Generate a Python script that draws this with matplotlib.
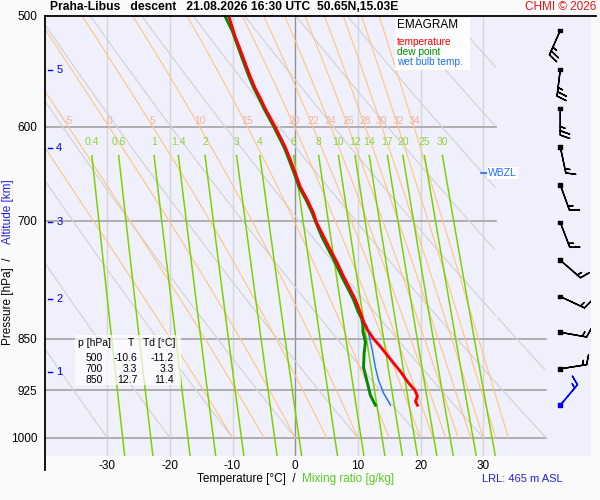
import numpy as np
import matplotlib
matplotlib.use("Agg")
import matplotlib.pyplot as plt
import matplotlib.transforms as mtransforms

plt.rcParams['font.family'] = ['Liberation Sans', 'DejaVu Sans']

# ---------------- sounding data ----------------
T_P = [500, 517, 528, 540, 552, 563, 572, 582, 591, 600, 610, 620, 633, 647,
       662, 676, 691, 702, 718, 734, 750, 767, 784, 797, 814, 826, 837, 850,
       861, 879, 897, 913, 925, 934, 942, 948]
T_C = [-10.6, -9.6, -8.8, -8.0, -7.2, -6.4, -5.6, -4.8, -4.0, -3.2, -2.4, -1.6,
       -0.8, 0.0, 0.8, 1.9, 2.9, 3.4, 4.5, 5.6, 6.7, 7.7, 8.8, 9.6, 10.4, 10.9,
       11.5, 12.5, 13.6, 15.2, 16.8, 18.0, 19.1, 19.5, 19.2, 19.5]

TD_P = [500, 513, 528, 540, 552, 563, 572, 582, 591, 600, 610, 620, 633, 647,
        662, 676, 691, 702, 718, 734, 750, 767, 784, 797, 814, 822, 832, 840,
        850, 855, 870, 891, 913, 933, 948]
TD_C = [-11.2, -10.0, -9.0, -8.2, -7.4, -6.6, -5.8, -5.0, -4.2, -3.4, -2.6,
        -1.8, -1.0, -0.2, 0.6, 1.7, 2.7, 3.3, 4.2, 5.3, 6.4, 7.4, 8.5, 9.3,
        10.1, 10.6, 10.8, 10.8, 11.1, 11.2, 11.0, 10.9, 11.5, 12.0, 12.8]

TW_P = [826, 832, 846, 866, 891, 910, 929, 948]
TW_C = [10.9, 11.4, 11.8, 12.3, 12.8, 13.3, 14.1, 15.2]

# wind: pressure, direction (deg from), speed (kt)
WIND_P = [512, 546, 582, 620, 660, 702, 747, 793, 841, 893, 948]
WIND_DIR = [204, 187, 180, 168, 160, 159, 131, 115, 100, 81, 40]
WIND_SPD = [25, 25, 25, 15, 15, 15, 15, 15, 15, 15, 15]

# altitude marks (km) and their pressure
ALT_KM = [1, 2, 3, 4, 5]
ALT_P = [897, 796, 702, 621, 546]

WBZL_P = 647

TABLE_P = [500, 700, 850]
TABLE_T = [-10.6, 3.3, 12.7]
TABLE_TD = [-11.2, 3.3, 11.4]

# diagram reference lines
P_TICKS = [500, 600, 700, 850, 925, 1000]
ISOBAR_END = [40, 32, 32, 40, 40, 40]
T_TICKS = [-30, -20, -10, 0, 10, 20, 30]
THETA_DRY = list(range(-30, 140, 10))
THETA_W = [-10, -5, 0, 5, 10, 15, 20, 22, 24, 26, 28, 30, 32, 34]
MIX_RATIO = [0.4, 0.6, 1, 1.4, 2, 3, 4, 6, 8, 10, 12, 14, 17, 20, 25, 30]
MIX_LABELS = ["0.4", "0.6", "1", "1.4", "2", "3", "4", "6", "8", "10", "12",
              "14", "17", "20", "25", "30"]

P_TOP, P_BOT = 500, 1030.6
T_MIN, T_MAX, T_RIGHT = -40, 40, 47.2
P_STEP, T_MAX_UPPER = 820, 32


def es(tc):
    return 6.112 * np.exp(17.67 * tc / (tc + 243.5))


def dewpoint_from_w(w, p):
    e = w * p / (622.0 + w)
    a = np.log(e / 6.112)
    return 243.5 * a / (17.67 - a)


def right_clip(tt, pp):
    lim = np.where(pp < P_STEP, T_MAX_UPPER, T_MAX)
    return np.where((tt <= lim) & (tt >= T_MIN - 5), tt, np.nan)


def moist_adiabat(tw, p_levels):
    # integrate the pseudo-adiabat from 1000 hPa upward
    Rd, cp, Lv, eps = 287.04, 1005.7, 2.501e6, 0.622

    def dtdp(t, p):
        e = es(t - 273.15)
        rs = eps * e / (p - e)
        return (Rd * t + Lv * rs) / (p * (cp + Lv * Lv * rs * eps / (Rd * t * t)))

    out = {1000.0: tw + 273.15}
    t = tw + 273.15
    p = 1000.0
    for target in sorted([q for q in p_levels if q < 1000], reverse=True):
        n = 4
        h = (target - p) / n
        for _ in range(n):
            k1 = dtdp(t, p)
            k2 = dtdp(t + 0.5 * h * k1, p + 0.5 * h)
            k3 = dtdp(t + 0.5 * h * k2, p + 0.5 * h)
            k4 = dtdp(t + h * k3, p + h)
            t += h * (k1 + 2 * k2 + 2 * k3 + k4) / 6
            p += h
        out[target] = t
    ps = np.array(sorted(out))
    return ps, np.array([out[q] for q in ps]) - 273.15


fig = plt.figure(figsize=(6, 5), dpi=100, facecolor="#fafafa")
ax = fig.add_axes([44.5 / 600, 44 / 500, (591 - 44.5) / 600, 440 / 500])
ax.set_facecolor("#f0f0fd")
ax.set_yscale("log")
ax.set_xlim(T_MIN, T_RIGHT)
ax.set_ylim(P_BOT, P_TOP)
for s in ax.spines.values():
    s.set_visible(False)

# isotherms and isobars
for t in T_TICKS:
    ax.plot([t, t], [P_TOP, P_BOT], color="#909090" if t == 0 else "#d6d6d6",
            lw=1.0, zorder=1)
for p, tend in zip(P_TICKS[1:], ISOBAR_END[1:]):
    ax.plot([T_MIN, tend], [p, p], color="#a4a4a4", lw=1.2, zorder=1)

# dry adiabats
pp = np.linspace(P_TOP, 1000, 300)
for th in THETA_DRY:
    tt = (th + 273.15) * (pp / 1000.0) ** 0.2857 - 273.15
    ax.plot(right_clip(tt, pp), pp, color="#d4d4d4", lw=0.9, zorder=1)

# pseudo-adiabats
plev = np.linspace(P_TOP, 1000, 80)
for tw in THETA_W:
    ps, ts = moist_adiabat(tw, plev)
    ax.plot(right_clip(ts, ps), ps, color="#ffc480", lw=0.8, zorder=2)
    if tw >= -5:
        _, t6 = moist_adiabat(tw, [600.0])
        ax.text(t6[0], 594, str(tw), color="#f7b09a", fontsize=7.5,
                ha="center", va="center", zorder=3)

# mixing ratio lines
pm = np.linspace(629, P_BOT, 50)
for w, lab in zip(MIX_RATIO, MIX_LABELS):
    ax.plot(dewpoint_from_w(w, pm), pm, color="#7ed000", lw=1.1, zorder=2)
    ax.text(dewpoint_from_w(w, 629.0), 615, lab, color="#8fd43a",
            fontsize=7.5, ha="center", va="center", zorder=3)

# profiles
ax.plot(TD_C, TD_P, color="#008a00", lw=2.1, zorder=5)
ax.plot(TW_C, TW_P, color="#1f6fff", lw=1.0, zorder=5)
ax.plot(T_C, T_P, color="#ff0000", lw=2.1, zorder=6)

# wind barbs
wd = np.radians(WIND_DIR)
spd = np.array(WIND_SPD, dtype=float)
u = -spd * np.sin(wd)
v = -spd * np.cos(wd)
xb = np.full(len(WIND_P), 42.3)
cols = ["k"] * (len(WIND_P) - 1) + ["#0000ff"]
ax.barbs(xb, WIND_P, u, v, length=6.2, lw=1.0, color=cols, flip_barb=True,
         sizes=dict(spacing=0.16, height=0.35), zorder=7)
ax.scatter(xb, WIND_P, marker="s", s=7, c=cols, zorder=8)

# altitude marks
bt = mtransforms.blended_transform_factory(ax.transAxes, ax.transData)
for km, p in zip(ALT_KM, ALT_P):
    ax.plot([0.006, 0.014], [p, p], color="#0000ee", lw=1.0, transform=bt,
            zorder=8)
    ax.text(0.027, p, str(km), color="#0000ee", fontsize=8, ha="center",
            va="center", transform=bt, zorder=8)

# WBZL
ax.plot([29.6, 30.6], [WBZL_P, WBZL_P], color="#1f6fff", lw=1.2, zorder=8)
ax.text(30.8, WBZL_P, "WBZL", color="#1f6fff", fontsize=7.5, ha="left",
        va="center", zorder=8,
        bbox=dict(boxstyle="square,pad=0.1", fc="white", ec="none"))

# legend box
ax.add_patch(plt.Rectangle((0.641, 0.877), 0.137, 0.118,
                           transform=ax.transAxes, fc="white", ec="none",
                           alpha=0.9, zorder=9))
ax.text(0.645, 0.980, "EMAGRAM", transform=ax.transAxes, fontsize=8.5,
        va="center", ha="left", color="black", zorder=10)
for i, (lab, c) in enumerate([("temperature", "#ff0000"),
                              ("dew point", "#009000"),
                              ("wet bulb temp.", "#1f6fff")]):
    ax.text(0.645, 0.941 - i * 0.0228, lab, transform=ax.transAxes,
            fontsize=7.3, color=c, va="center", ha="left", zorder=10)

# data table
ax.add_patch(plt.Rectangle((0.055, 0.162), 0.195, 0.114,
                           transform=ax.transAxes, fc="white", ec="none",
                           alpha=0.7, zorder=9))
ax.text(0.061, 0.256, "p [hPa]", transform=ax.transAxes, fontsize=7.5,
        va="center", zorder=10)
ax.text(0.152, 0.256, "T", transform=ax.transAxes, fontsize=7.5,
        va="center", zorder=10)
ax.text(0.18, 0.256, "Td [°C]", transform=ax.transAxes, fontsize=7.5,
        va="center", zorder=10)
for i, (p, t, td) in enumerate(zip(TABLE_P, TABLE_T, TABLE_TD)):
    y = 0.222 - i * 0.025
    ax.text(0.106, y, f"{p}", transform=ax.transAxes, fontsize=7.5,
            ha="right", va="center", zorder=10)
    ax.text(0.170, y, f"{t:.1f}", transform=ax.transAxes, fontsize=7.5,
            ha="right", va="center", zorder=10)
    ax.text(0.237, y, f"{td:.1f}", transform=ax.transAxes, fontsize=7.5,
            ha="right", va="center", zorder=10)

# ticks
ax.set_yticks(P_TICKS)
ax.set_yticklabels([str(p) for p in P_TICKS])
ax.yaxis.set_minor_locator(matplotlib.ticker.NullLocator())
ax.set_xticks(T_TICKS)
ax.set_xticklabels([str(t) for t in T_TICKS])
ax.tick_params(axis="both", length=0, labelsize=8.5)
ax.tick_params(axis="y", pad=5)
ax.tick_params(axis="x", pad=3)

# frame lines (left and top extend past the plot area)
ax.plot([0, 0], [-0.032, 1], color="black", lw=1.3, transform=ax.transAxes,
        clip_on=False, zorder=11)
ax.plot([0, 1.01], [1, 1], color="black", lw=1.3, transform=ax.transAxes,
        clip_on=False, zorder=11)

# titles and axis labels
fig.text(50 / 600, 0.985, "Praha-Libus   descent   21.08.2026 16:30 UTC  50.65N,15.03E",
         fontsize=8.7, fontweight="bold", ha="left", va="center")
fig.text(596 / 600, 0.985, "CHMI © 2026", fontsize=8.5, color="#ee1111",
         ha="right", va="center")
fig.text(197 / 600, 1 - 479 / 500, "Temperature [°C]  /  ", fontsize=8.5,
         ha="left", va="center")
fig.text(302 / 600, 1 - 479 / 500, "Mixing ratio [g/kg]", fontsize=8.5,
         color="#55cc22", ha="left", va="center")
fig.text(482 / 600, 1 - 479 / 500, "LRL: 465 m ASL", fontsize=8,
         color="#2222dd", ha="left", va="center")
fig.text(8 / 600, 1 - 298 / 500, "Pressure [hPa]  /  ", fontsize=8.5,
         rotation=90, ha="center", va="center")
fig.text(8 / 600, 1 - 212 / 500, "Altitude [km]", fontsize=8.5,
         color="#2222dd", rotation=90, ha="center", va="center")

fig.savefig("out.png", dpi=100, facecolor=fig.get_facecolor())
